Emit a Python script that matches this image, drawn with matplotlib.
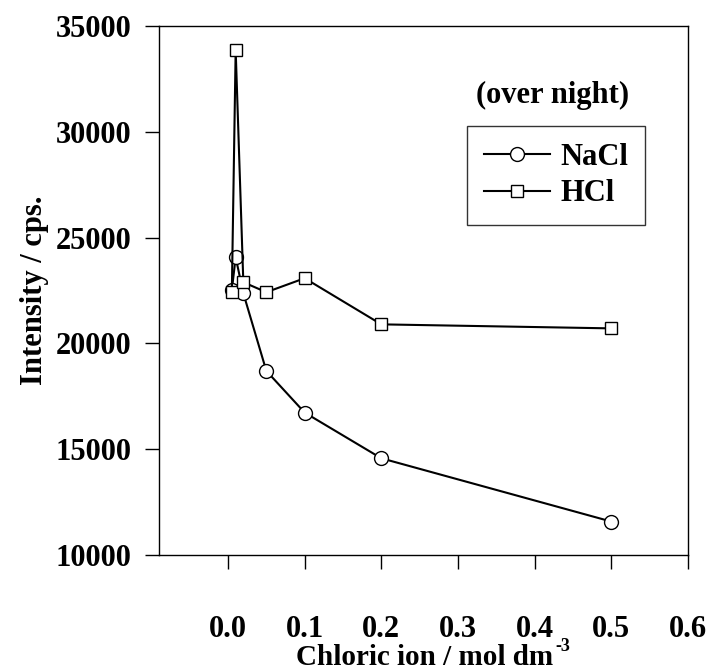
import matplotlib
matplotlib.use("Agg")
import matplotlib.pyplot as plt

# chloride concentration (mol dm^-3) and intensity (cps)
conc = [0.005, 0.01, 0.02, 0.05, 0.1, 0.2, 0.5]
nacl = [22520, 24070, 22370, 18700, 16730, 14570, 11580]
hcl = [22440, 33860, 22890, 22420, 23080, 20900, 20710]
xticks = [0.0, 0.1, 0.2, 0.3, 0.4, 0.5, 0.6]
yticks = [10000, 15000, 20000, 25000, 30000, 35000]

plt.rcParams["font.family"] = ["Liberation Serif", "DejaVu Serif"]
plt.rcParams["font.weight"] = "bold"
FS = 22

fig = plt.figure(figsize=(7.1, 6.7), dpi=100)
ax = fig.add_axes([159/710, 1 - 555/670, (688 - 159)/710, (555 - 26)/670])

ax.plot(conc, nacl, "-o", color="black", lw=1.5, ms=10,
        mfc="white", mec="black", mew=1, label="NaCl", zorder=3)
ax.plot(conc, hcl, "-s", color="black", lw=1.5, ms=9,
        mfc="white", mec="black", mew=1, label="HCl", zorder=3)

ax.set_xlim(-0.09, 0.6)
ax.set_ylim(10000, 35000)
ax.set_xticks(xticks)
ax.set_xticklabels([f"{t:.1f}" for t in xticks])
ax.set_yticks(yticks)
ax.tick_params(direction="out", length=10, width=1, labelsize=FS)
ax.tick_params(axis="x", pad=33)
ax.tick_params(axis="y", pad=10)
for s in ax.spines.values():
    s.set_linewidth(1)

# x label with a small raised "-3"
fig.text(553/710, 1 - 665/670, "Chloric ion / mol dm", fontsize=21,
         fontweight="bold", ha="right", va="baseline")
fig.text(555/710, 1 - 651/670, "-3", fontsize=13, fontweight="bold",
         ha="left", va="baseline")

ax.set_ylabel("Intensity / cps.", fontsize=FS, fontweight="bold")
ax.yaxis.set_label_coords(-0.236, 0.5)
ax.yaxis.label.set_va("center")

fig.text(553/710, 1 - 95/670, "(over night)", fontsize=FS, fontweight="bold",
         ha="center", va="center")
leg = ax.legend(loc="upper left", bbox_to_anchor=(467/710, 1 - 126/670),
                bbox_transform=fig.transFigure, borderaxespad=0,
                frameon=True, fancybox=False, edgecolor="black",
                handlelength=2.15, handletextpad=0.35, borderpad=0.55,
                labelspacing=0.25, prop={"weight": "bold", "size": FS})
leg.get_frame().set_linewidth(1)

fig.savefig("out.png", dpi=100)
